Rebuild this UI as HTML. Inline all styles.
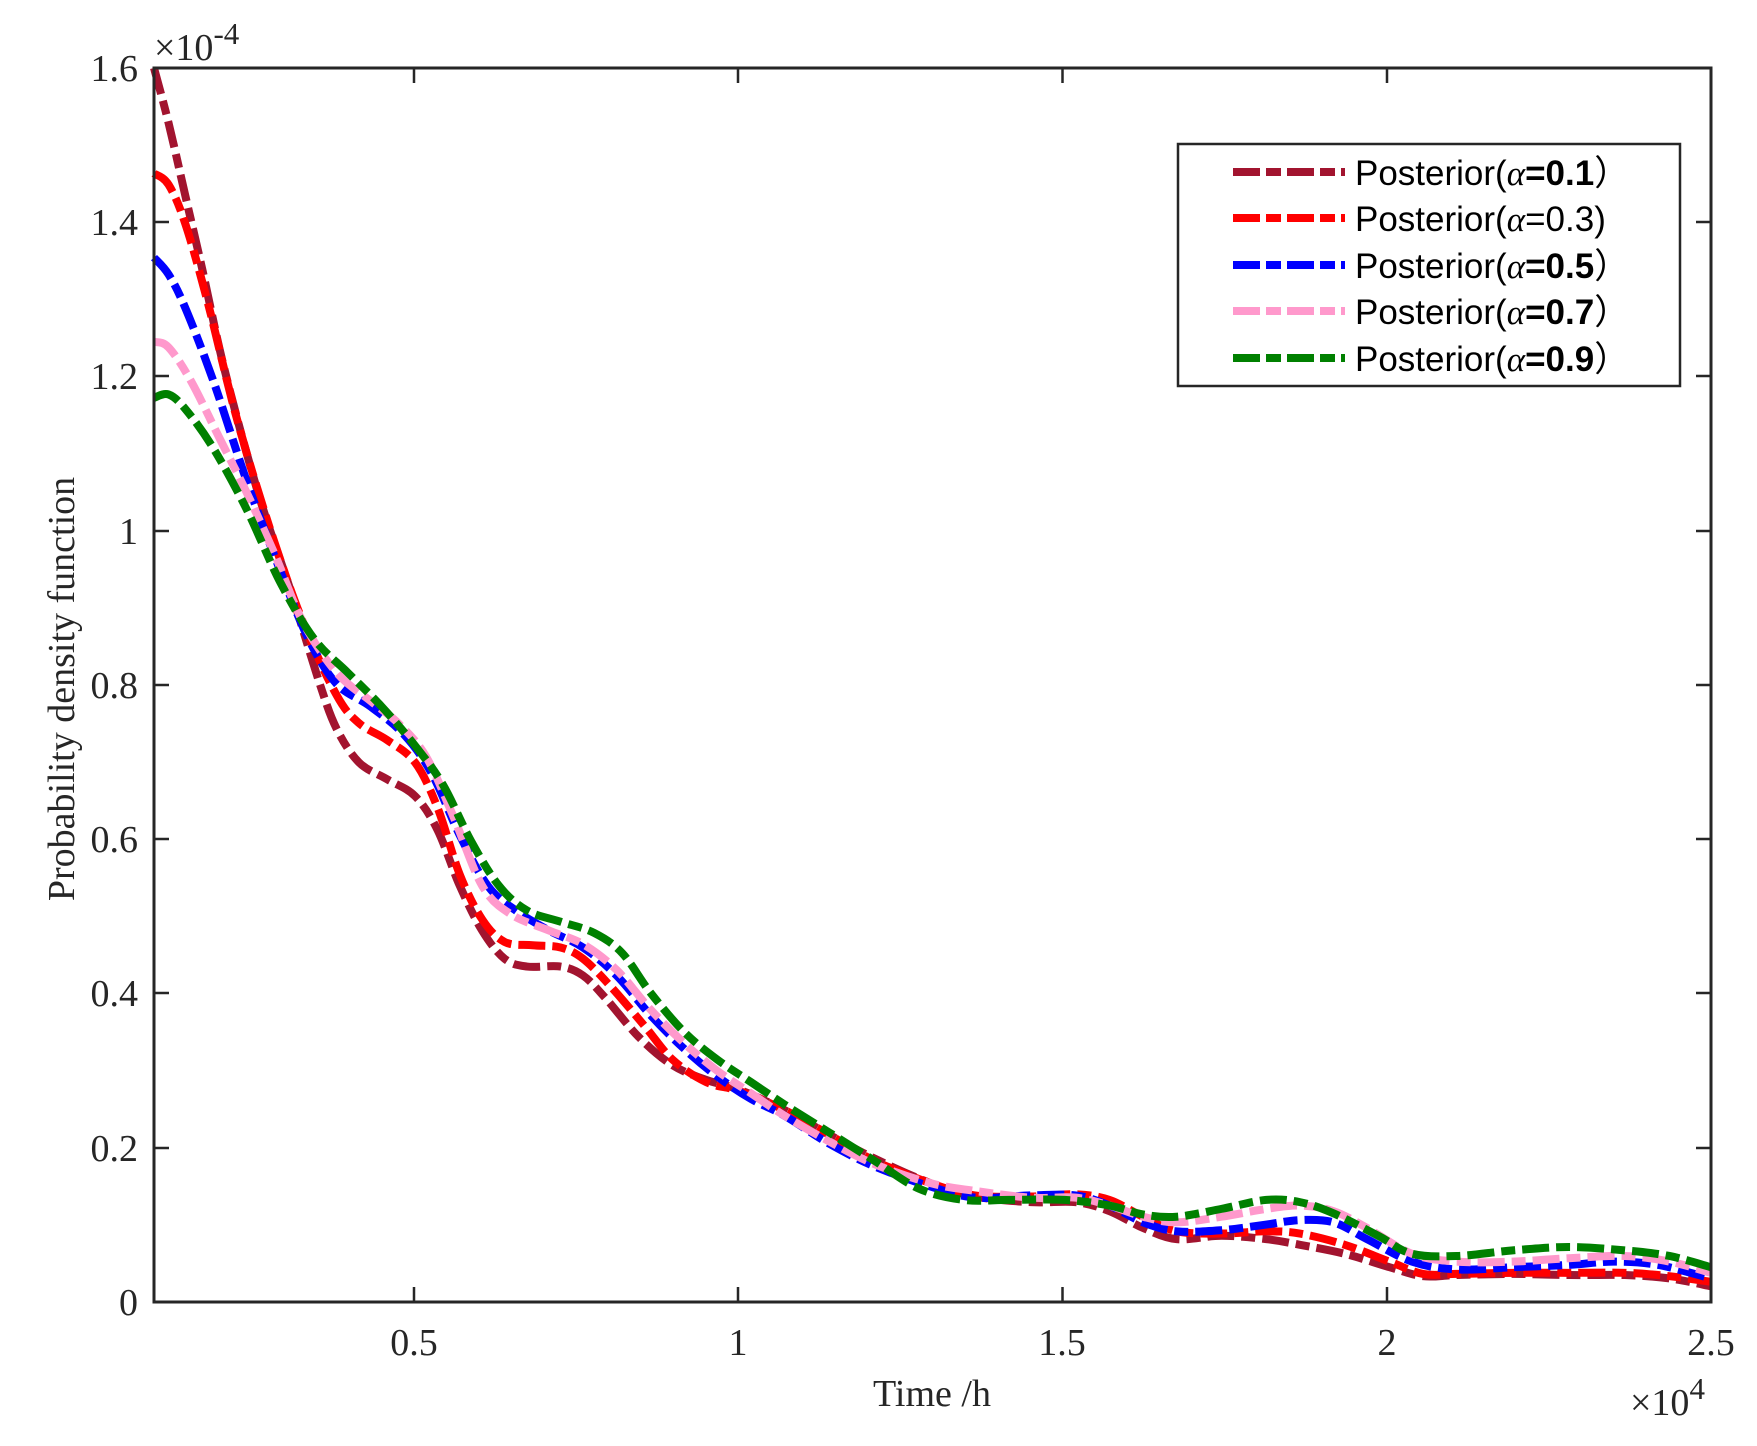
<!DOCTYPE html>
<html><head><meta charset="utf-8"><style>
html,body{margin:0;padding:0;background:#fff;}
svg{display:block;}
.t{font-family:"Liberation Serif",serif;font-size:38px;fill:#262626;}
.l{font-family:"Liberation Sans","Noto Sans CJK SC",sans-serif;font-size:35px;fill:#000;}
</style></head><body>
<svg width="1757" height="1446" viewBox="0 0 1757 1446" xmlns="http://www.w3.org/2000/svg">
<rect width="1757" height="1446" fill="#fff"/>
<g id="curves" fill="none" stroke-width="8" stroke-linejoin="round" stroke-dasharray="27,7,14,7" transform="translate(154,68) scale(1.1201,1.1218) translate(-137,-61)">
<path vector-effect="non-scaling-stroke" stroke="#a2142f" data-p="137,61 150,110 165,175 180,240 200,330 230,440 260,530 285,610 300,650 320,680 345,695 370,710 390,740 410,790 430,830 450,855 470,862 500,862 520,870 540,890 570,925 600,950 630,963 660,972 700,990 740,1012 780,1033 830,1055 870,1067 920,1072 960,1072 990,1080 1020,1095 1050,1105 1090,1102 1130,1105 1160,1110 1200,1118 1240,1130 1270,1138 1300,1137 1350,1136 1400,1137 1450,1137 1490,1140 1527,1147"/>
<path vector-effect="non-scaling-stroke" stroke="#ff0000" data-p="137,155 150,165 165,200 185,270 210,370 240,470 270,555 300,620 320,645 345,660 370,680 390,720 410,780 430,820 450,840 475,843 500,845 520,855 545,880 575,915 600,945 630,965 660,973 700,990 740,1012 780,1035 830,1055 870,1066 920,1067 960,1065 990,1070 1020,1085 1050,1098 1090,1100 1130,1098 1160,1100 1200,1110 1240,1125 1270,1136 1300,1136 1350,1135 1400,1135 1450,1135 1490,1138 1527,1143"/>
<path vector-effect="non-scaling-stroke" stroke="#0000ff" data-p="137,230 150,245 165,275 190,340 220,430 250,510 275,570 300,610 330,630 360,655 385,690 410,745 435,790 460,812 490,830 520,845 550,870 580,905 610,935 640,960 670,980 700,995 740,1020 780,1040 830,1058 870,1068 920,1066 960,1066 990,1075 1020,1090 1050,1098 1090,1097 1130,1092 1160,1088 1190,1090 1220,1105 1260,1125 1300,1132 1350,1130 1400,1128 1440,1125 1480,1128 1527,1140"/>
<path vector-effect="non-scaling-stroke" stroke="#ff99cc" data-p="137,305 150,310 170,340 195,390 220,440 245,495 270,555 300,600 330,625 355,645 380,675 405,730 430,790 455,815 490,830 520,842 550,865 580,900 610,930 640,955 670,975 700,995 740,1018 780,1038 830,1055 870,1062 920,1068 960,1068 990,1075 1020,1085 1050,1090 1090,1085 1130,1078 1160,1075 1190,1080 1220,1095 1260,1118 1300,1125 1350,1125 1400,1122 1450,1120 1490,1125 1527,1135"/>
<path vector-effect="non-scaling-stroke" stroke="#008000" data-p="137,355 150,352 165,365 190,400 220,455 250,520 280,570 310,600 340,630 370,665 395,700 420,750 445,790 470,812 500,822 530,832 555,850 580,885 610,920 640,945 670,965 700,985 740,1010 780,1035 820,1060 860,1070 900,1070 950,1070 990,1075 1020,1083 1050,1085 1090,1078 1130,1070 1160,1072 1190,1082 1230,1102 1260,1118 1300,1120 1350,1115 1400,1112 1450,1115 1490,1120 1527,1130"/>
</g>
<rect x="154" y="68" width="1557" height="1234" fill="none" stroke="#262626" stroke-width="3"/>
<g stroke="#262626" stroke-width="2.5">
<path d="M414,1302v-15M738,1302v-15M1062.5,1302v-15M1387,1302v-15M414,68v15M738,68v15M1062.5,68v15M1387,68v15"/>
<path d="M154,1148h15M154,993h15M154,839h15M154,685h15M154,531h15M154,376h15M154,222h15M1711,1148h-15M1711,993h-15M1711,839h-15M1711,685h-15M1711,531h-15M1711,376h-15M1711,222h-15"/>
</g>
<g class="t" text-anchor="end">
<text x="138" y="1315">0</text><text x="138" y="1161">0.2</text><text x="138" y="1006">0.4</text><text x="138" y="852">0.6</text><text x="138" y="698">0.8</text><text x="138" y="544">1</text><text x="138" y="389">1.2</text><text x="138" y="235">1.4</text><text x="138" y="81">1.6</text>
</g>
<g class="t" text-anchor="middle">
<text x="414" y="1355">0.5</text><text x="738" y="1355">1</text><text x="1062" y="1355">1.5</text><text x="1387" y="1355">2</text><text x="1711" y="1355">2.5</text>
</g>
<text class="t" x="154" y="60" font-size="41">×10<tspan font-size="31" dy="-16">-4</tspan></text>
<text class="t" x="1630" y="1415" font-size="41">×10<tspan font-size="31" dy="-16">4</tspan></text>
<text class="t" x="932" y="1406" text-anchor="middle" font-size="47">Time /h</text>
<text class="t" transform="translate(74,689) rotate(-90)" text-anchor="middle" font-size="47">Probability density function</text>
<rect x="1178" y="144" width="502" height="242" fill="#fff" stroke="#262626" stroke-width="2.5"/>
<g stroke-width="8" stroke-dasharray="27,6,15,6">
<line x1="1233" y1="172" x2="1345" y2="172" stroke="#a2142f"/>
<line x1="1233" y1="218" x2="1345" y2="218" stroke="#ff0000"/>
<line x1="1233" y1="265" x2="1345" y2="265" stroke="#0000ff"/>
<line x1="1233" y1="311" x2="1345" y2="311" stroke="#ff99cc"/>
<line x1="1233" y1="358" x2="1345" y2="358" stroke="#008000"/>
</g>
<g class="l">
<text x="1355" y="185">Posterior(<tspan font-family="Liberation Serif" font-style="italic">α</tspan><tspan font-weight="bold">=0.1</tspan>）</text>
<text x="1355" y="231">Posterior(<tspan font-family="Liberation Serif" font-style="italic">α</tspan>=0.3)</text>
<text x="1355" y="278">Posterior(<tspan font-family="Liberation Serif" font-style="italic">α</tspan><tspan font-weight="bold">=0.5</tspan>）</text>
<text x="1355" y="324">Posterior(<tspan font-family="Liberation Serif" font-style="italic">α</tspan><tspan font-weight="bold">=0.7</tspan>）</text>
<text x="1355" y="371">Posterior(<tspan font-family="Liberation Serif" font-style="italic">α</tspan><tspan font-weight="bold">=0.9</tspan>）</text>
</g>
</svg>
<script>
document.querySelectorAll('#curves path').forEach(function(el){
  var p=el.getAttribute('data-p').trim().split(/\s+/).map(function(s){return s.split(',').map(Number);});
  var d='M'+p[0][0]+','+p[0][1];
  for(var i=0;i<p.length-1;i++){
    var p0=p[i>0?i-1:0],p1=p[i],p2=p[i+1],p3=p[i+2<p.length?i+2:i+1];
    var c1x=p1[0]+(p2[0]-p0[0])/6,c1y=p1[1]+(p2[1]-p0[1])/6;
    var c2x=p2[0]-(p3[0]-p1[0])/6,c2y=p2[1]-(p3[1]-p1[1])/6;
    d+=' C'+c1x.toFixed(2)+','+c1y.toFixed(2)+' '+c2x.toFixed(2)+','+c2y.toFixed(2)+' '+p2[0]+','+p2[1];
  }
  el.setAttribute('d',d);
  el.removeAttribute('data-p');
});
</script>
</body></html>
